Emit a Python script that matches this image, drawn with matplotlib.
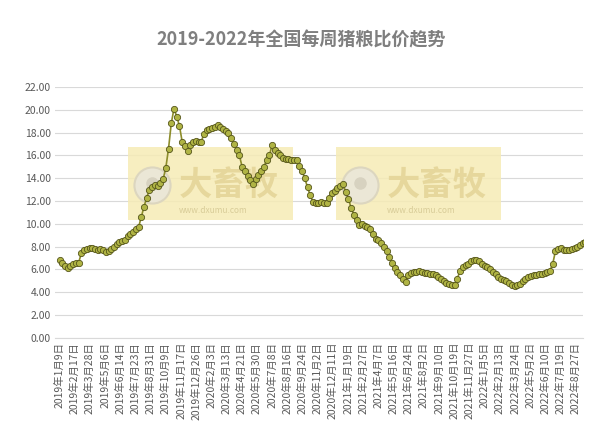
import matplotlib.pyplot as plt
import matplotlib.dates as mdates
from matplotlib.patches import Rectangle
import pandas as pd

plt.rcParams['font.family'] = ['Noto Sans CJK SC', 'DejaVu Sans']

title = "2019-2022年全国每周猪粮比价趋势"
start = "2019-01-09"
ratio = [
    6.8, 6.6, 6.3, 6.1, 6.3, 6.5, 6.6, 6.6,
    7.4, 7.7, 7.8, 7.9, 7.9, 7.8, 7.7, 7.8, 7.7, 7.5, 7.6, 7.8, 8.0,
    8.2, 8.4, 8.5, 8.6, 8.9, 9.1, 9.3, 9.5, 9.7,
    10.6, 11.5, 12.3, 13.0, 13.2, 13.4, 13.3, 13.6, 13.9,
    14.9, 16.6, 18.8, 20.1, 19.4, 18.6, 17.2,
    16.8, 16.4, 16.9, 17.2, 17.3, 17.2, 17.2,
    17.9, 18.2, 18.3, 18.4, 18.5, 18.7,
    18.5, 18.3, 18.1, 18.0, 17.5, 17.0, 16.5,
    16.0, 15.0, 14.6, 14.2, 13.8, 13.5,
    13.9, 14.3, 14.6, 15.0, 15.6, 16.0, 16.9,
    16.5, 16.2, 16.0, 15.8, 15.7, 15.7, 15.6, 15.6, 15.6,
    15.1, 14.6, 14.0, 13.2, 12.5, 11.9,
    11.8, 11.8, 11.9, 11.8, 11.8,
    12.3, 12.7, 12.9, 13.1, 13.3, 13.5,
    12.8, 12.2, 11.4, 10.8,
    10.3, 9.9, 10.0, 9.8, 9.7, 9.5, 9.1, 8.7, 8.6, 8.3, 8.0,
    7.6, 7.1, 6.6, 6.1, 5.8, 5.5, 5.2, 4.9,
    5.5, 5.7, 5.8, 5.8, 5.9, 5.8, 5.7, 5.7, 5.6, 5.6,
    5.5, 5.3, 5.2, 5.0, 4.8, 4.7, 4.6, 4.6,
    5.2, 5.9, 6.2, 6.4, 6.5, 6.7, 6.8,
    6.8, 6.7, 6.5, 6.3, 6.2, 6.0, 5.8, 5.6, 5.3,
    5.2, 5.1, 5.0, 4.8, 4.6, 4.5, 4.6, 4.7, 5.0,
    5.2, 5.3, 5.4, 5.5, 5.5, 5.6, 5.6, 5.7, 5.8, 5.9,
    6.5, 7.6, 7.8, 7.9, 7.7, 7.7,
    7.7, 7.8, 7.9, 8.0, 8.1, 8.3, 8.4,
]
dates = pd.date_range(start, periods=len(ratio), freq="7D")
tick_dates = pd.date_range(start, "2022-08-27", freq="39D")
tick_labels = [f"{d.year}年{d.month}月{d.day}日" for d in tick_dates]

fig = plt.figure(figsize=(6.03, 4.37), dpi=100)
ax = fig.add_axes([0.091, 0.227, 0.876, 0.574])

# watermark boxes
for x0, x1 in [("2019-07-05", "2020-08-30"), ("2020-12-20", "2022-02-15")]:
    a, b = mdates.datestr2num(x0), mdates.datestr2num(x1)
    ax.add_patch(Rectangle((a, 10.35), b - a, 6.35, color="#f6ebb5", alpha=0.85, zorder=1, lw=0))
    ax.text(a + 130, 13.4, "大畜牧", fontsize=24, color="#e6d79c", fontweight="bold", zorder=1.5, va="center")
    ax.text(a + 130, 11.2, "www.dxumu.com", fontsize=6, color="#d8cc98", zorder=1.5, va="center")
    ax.plot([a + 60], [13.4], marker="o", ms=26, mfc="#ebe7d6", mec="#dcd6bf", mew=1.5, zorder=1.5)
    ax.plot([a + 60], [13.6], marker="o", ms=9, mfc="#d7d2c0", mec="none", zorder=1.6)

ax.plot(dates, ratio, color="#8c8c2a", lw=1.2, marker="o", ms=4.5,
        mfc="#b0b444", mec="#55551a", mew=0.6, zorder=3)

ax.set_ylim(0, 22)
ax.set_yticks(range(0, 23, 2))
ax.set_yticklabels([f"{v:.2f}" for v in range(0, 23, 2)], fontsize=7.5, color="#595959")
ax.set_xlim(mdates.datestr2num("2018-12-28"), mdates.datestr2num("2022-09-15"))
ax.set_xticks(tick_dates)
ax.set_xticklabels(tick_labels, rotation=90, fontsize=7.5, color="#595959")
ax.grid(axis="y", color="#d9d9d9", lw=0.8)
ax.set_axisbelow(True)
for s in ["top", "right", "left"]:
    ax.spines[s].set_visible(False)
ax.spines["bottom"].set_color("#d9d9d9")
ax.tick_params(length=0, pad=3)

fig.suptitle(title, fontsize=13, fontweight="bold", color="#7f7f7f", y=0.93)
fig.savefig("out.png", dpi=100)
